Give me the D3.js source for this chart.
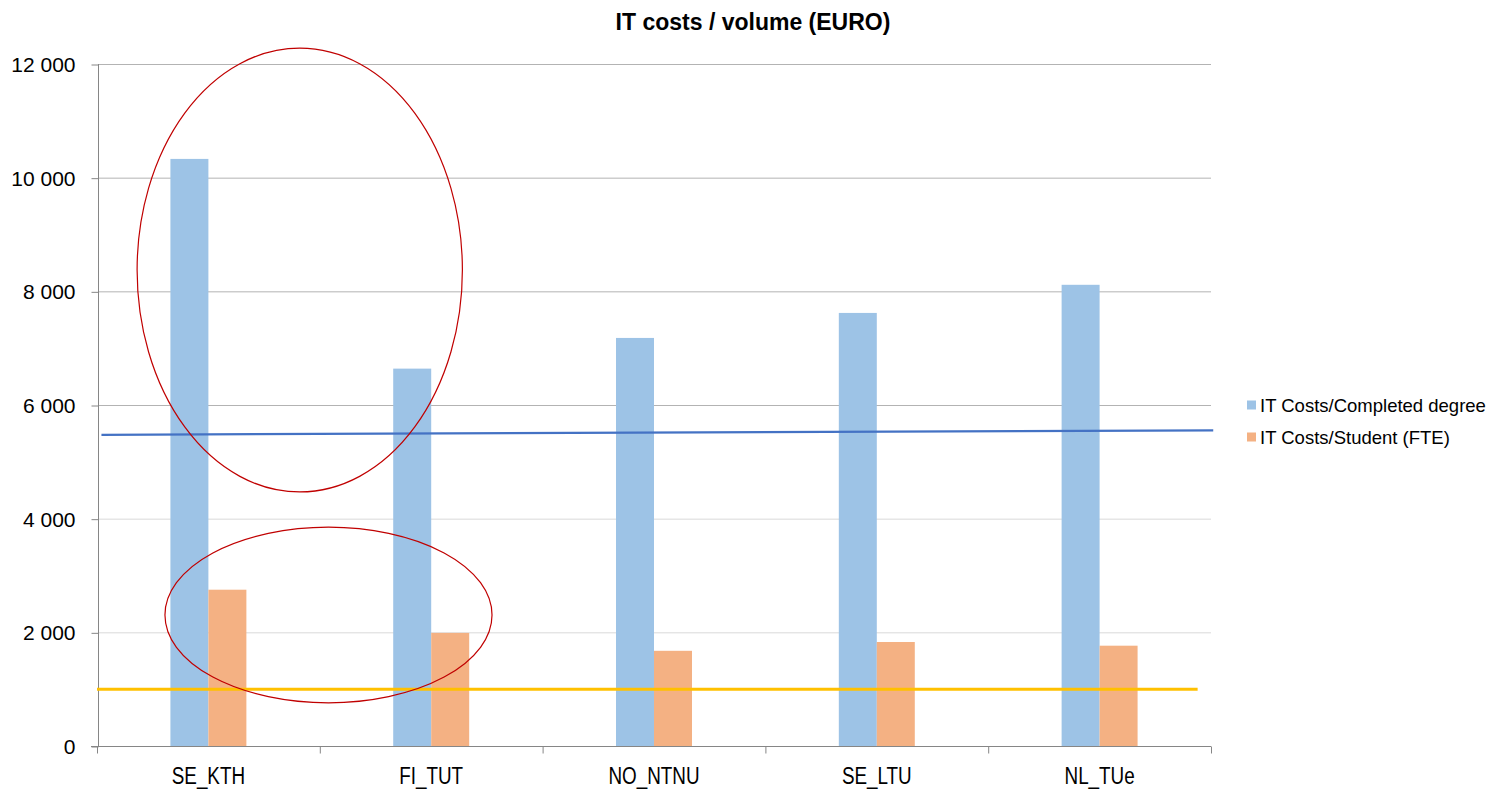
<!DOCTYPE html>
<html>
<head>
<meta charset="utf-8">
<script src="https://cdn.jsdelivr.net/npm/d3@7"></script>
<style>
  html, body { margin: 0; padding: 0; background: #fff; }
  svg { display: block; font-family: "Liberation Sans", Arial, sans-serif; }
</style>
</head>
<body>
<svg id="chart" width="1493" height="790"></svg>
<script>
// ---- data ----
const categories = ["SE_KTH", "FI_TUT", "NO_NTNU", "SE_LTU", "NL_TUe"];
const seriesNames = ["IT Costs/Completed degree", "IT Costs/Student (FTE)"];
const completedDegree = [10330, 6640, 7180, 7620, 8115];
const studentFTE = [2750, 1990, 1675, 1830, 1765];
const yTicks = [0, 2000, 4000, 6000, 8000, 10000, 12000];
const title = "IT costs / volume (EURO)";
// reference lines: [category-position, value] endpoints (category units, 0 = left edge)
const blueLine = [[0.02, 5475], [5.01, 5555]];
const yellowLine = [[0, 1000], [4.94, 1000]];
// annotation ellipses in data units: x range in category units, y range in values
const ellipses = [
  { x0: 0.18, x1: 1.64, y0: 12280, y1: 4470 },
  { x0: 0.305, x1: 1.773, y0: 3850, y1: 760 }
];

// ---- layout ----
const colors = ["#9DC3E6", "#F4B183"];
const svg = d3.select("#chart");
const L = 98, R = 1211, T = 64, B = 746;

const x = d3.scaleBand().domain(categories).range([L - 1, R]).padding(0);
const xc = d3.scaleLinear().domain([0, categories.length]).range([L - 1, R]);
const y = d3.scaleLinear().domain([0, 12000]).range([B, T]);
const groupW = x.bandwidth() * 0.341;
const xs = d3.scaleBand().domain([0, 1]).range([0, groupW]).padding(0);

// title
svg.append("text").attr("x", 753).attr("y", 30).attr("text-anchor", "middle")
  .attr("font-size", 23).attr("font-weight", "bold").attr("fill", "#000").text(title);

// gridlines
svg.append("g").selectAll("line").data(yTicks.filter(d => d > 0)).join("line")
  .attr("x1", L).attr("x2", R).attr("y1", d => y(d) + 0.5).attr("y2", d => y(d) + 0.5)
  .attr("stroke", d => d >= 6000 ? "#b3b3b3" : "#d9d9d9").attr("stroke-width", 1);

// y axis
const yAxis = d3.axisLeft(y).tickValues(yTicks).tickSize(7).tickPadding(16)
  .tickFormat(d => d3.format(",")(d).replace(/,/g, " "));
const gy = svg.append("g").attr("transform", `translate(${L + 0.5},0)`).call(yAxis);
gy.select(".domain").attr("stroke", "#868686").attr("d", `M-7,${B + 0.5}H0V${T}`);
gy.selectAll(".tick line").attr("stroke", "#868686").attr("transform", "translate(0,0.5)");
gy.selectAll(".tick text").attr("font-size", 21).attr("fill", "#000")
  .attr("font-family", "'Liberation Sans', Arial, sans-serif").attr("dy", "0.36em");

// bars
const data = categories.map((c, i) => ({ c, v: [completedDegree[i], studentFTE[i]] }));
const groups = svg.append("g").selectAll("g").data(data).join("g")
  .attr("transform", d => `translate(${x(d.c) + x.bandwidth() / 2 - groupW / 2},0)`);
groups.selectAll("rect").data(d => d.v.map((v, k) => ({ v, k }))).join("rect")
  .attr("x", d => xs(d.k)).attr("width", xs.bandwidth())
  .attr("y", d => y(d.v)).attr("height", d => y(0) - y(d.v))
  .attr("fill", d => colors[d.k]);

// x axis
const xAxis = d3.axisBottom(xc).tickValues(d3.range(categories.length + 1)).tickSize(7).tickFormat("");
const gx = svg.append("g").attr("transform", `translate(0,${B + 0.5})`).call(xAxis);
gx.select(".domain").attr("stroke", "#868686").attr("d", `M${L - 7},0H${R}`);
gx.selectAll(".tick line").attr("stroke", "#868686");
svg.append("g").selectAll("text").data(categories).join("text")
  .attr("transform", d => `translate(${x(d) + x.bandwidth() / 2},784) scale(0.82,1)`)
  .attr("text-anchor", "middle").attr("font-size", 23).attr("fill", "#000").text(d => d);

// reference lines
const line = d3.line().x(d => xc(d[0])).y(d => y(d[1]));
svg.append("path").attr("d", line(blueLine)).attr("stroke", "#4472C4").attr("stroke-width", 2.2).attr("fill", "none");
svg.append("path").attr("d", line(yellowLine)).attr("stroke", "#FFC000").attr("stroke-width", 3).attr("fill", "none");

// ellipses
svg.append("g").selectAll("ellipse").data(ellipses).join("ellipse")
  .attr("cx", d => (xc(d.x0) + xc(d.x1)) / 2).attr("cy", d => (y(d.y0) + y(d.y1)) / 2)
  .attr("rx", d => Math.abs(xc(d.x1) - xc(d.x0)) / 2).attr("ry", d => Math.abs(y(d.y1) - y(d.y0)) / 2)
  .attr("fill", "none").attr("stroke", "#C00000").attr("stroke-width", 1.2);

// legend
const lg = svg.append("g").selectAll("g").data(seriesNames).join("g")
  .attr("transform", (d, i) => `translate(1247,${405 + i * 32})`);
lg.append("rect").attr("x", 0).attr("y", -4.5).attr("width", 9).attr("height", 9).attr("fill", (d, i) => colors[i]);
lg.append("text").attr("x", 13).attr("y", 6.5).attr("font-size", 18.5).attr("fill", "#000").text(d => d);
</script>
</body>
</html>
